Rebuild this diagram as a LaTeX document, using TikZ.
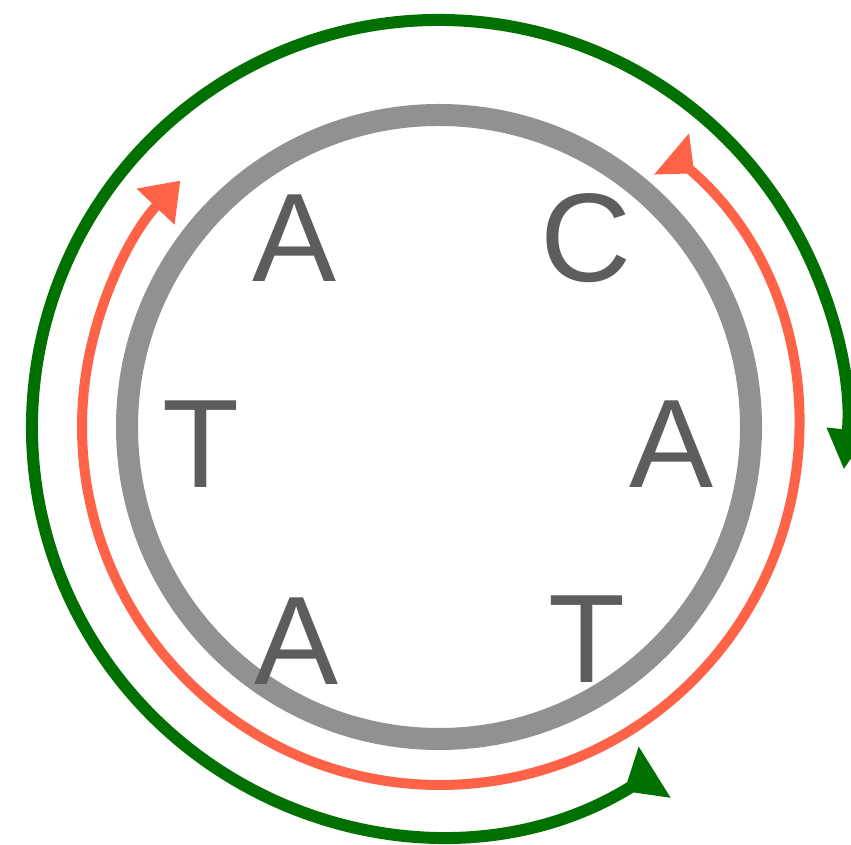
\documentclass[tikz,border=0pt]{standalone}
\usepackage{fontspec}
\setmainfont{Liberation Sans}
\usetikzlibrary{arrows.meta}
\definecolor{ringgray}{RGB}{145,145,145}
\definecolor{lettergray}{RGB}{93,93,93}
\definecolor{redarc}{RGB}{255,99,71}
\definecolor{greenarc}{RGB}{0,112,0}
\begin{document}
\begin{tikzpicture}[x=1pt,y=1pt,
  letter/.style={font=\fontsize{126}{126}\selectfont, text=lettergray, inner sep=0pt, anchor=base},
  ring/.style={draw=ringgray, line width=22pt},
  redflow/.style={draw=redarc, line width=10pt,
    {Triangle[reversed,length=30pt,width=52pt]}-{Triangle[length=36pt,width=50pt]}},
  greenflow/.style={draw=greenarc, line width=12pt,
    {Triangle[reversed,length=36pt,width=58pt]}-{Triangle[length=40pt,width=40pt]}}]
\useasboundingbox (0,0) rectangle (851,845);
\coordinate (c) at (439,418);
\coordinate (cr) at (440,418);
% ring
\draw[ring] (c) circle[radius=312];
% letters
\node[letter] (a1) at (295,563) {A};
\node[letter] (c1) at (586,563) {C};
\node[letter] (t1) at (201,357) {T};
\node[letter] (a2) at (672,357) {A};
\node[letter] (a3) at (297,160) {A};
\node[letter] (t2) at (587,162) {T};
% arcs
\draw[redflow] ([shift={(49.7:358)}]cr) arc[start angle=49.7, end angle=-223.5, radius=358];
\draw[greenflow] ([shift={(-58:407)}]c) arc[start angle=-58, end angle=-366, radius=407];
\end{tikzpicture}
\end{document}
